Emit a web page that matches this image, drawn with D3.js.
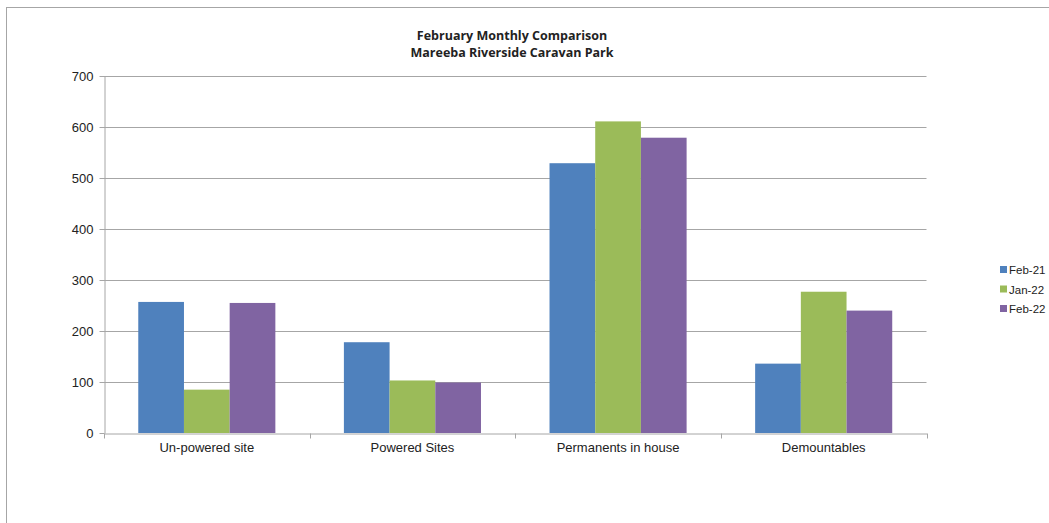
<!DOCTYPE html>
<html><head><meta charset="utf-8">
<script src="https://cdn.jsdelivr.net/npm/d3@7"></script>
<style>body{margin:0;background:#fff;}svg{display:block;}</style>
</head><body>
<svg id="c" width="1049" height="523"></svg>
<script>
const categories = ["Un-powered site", "Powered Sites", "Permanents in house", "Demountables"];
const seriesNames = ["Feb-21", "Jan-22", "Feb-22"];
const feb21 = [257, 178, 529, 136];
const jan22 = [85, 103, 611, 277];
const feb22 = [255, 99, 579, 240];
const yTicks = [0, 100, 200, 300, 400, 500, 600, 700];
const titleLines = ["February Monthly Comparison", "Mareeba Riverside Caravan Park"];
const colors = ["#4f81bd", "#9bbb59", "#8064a2"];

const seriesValues = [feb21, jan22, feb22];
const svg = d3.select("#c");
const m = {left: 104, top: 76, right: 926.5, bottom: 433};

// outer frame
svg.append("rect").attr("x", 6.5).attr("y", 7.5).attr("width", 1100).attr("height", 600)
  .attr("fill", "none").attr("stroke", "#a6a6a6").attr("stroke-width", 1);

const x = d3.scaleBand().domain(categories).range([m.left, m.right]).paddingInner(0).paddingOuter(0);
const bw = x.bandwidth();
const barW = bw / (3 + 1.5);
const y = d3.scaleLinear().domain([0, 700]).range([m.bottom, m.top]);

// gridlines
svg.append("g").selectAll("line").data(yTicks.filter(d => d > 0)).join("line")
  .attr("x1", m.left).attr("x2", m.right)
  .attr("y1", d => Math.round(y(d)) + 0.5).attr("y2", d => Math.round(y(d)) + 0.5)
  .attr("stroke", "#a6a6a6").attr("stroke-width", 1);

// bars
const gs = svg.append("g");
seriesValues.forEach((vals, si) => {
  gs.append("g").selectAll("rect").data(categories).join("rect")
    .attr("x", c => x(c) + barW * 0.75 + si * barW)
    .attr("width", barW)
    .attr("y", (c, i) => y(vals[i]))
    .attr("height", (c, i) => y(0) - y(vals[i]))
    .attr("fill", colors[si]);
});

// y axis
const ya = svg.append("g").attr("transform", `translate(${m.left + 0.5},0)`)
  .call(d3.axisLeft(y).tickValues(yTicks).tickSize(5).tickSizeOuter(0).tickPadding(6));
ya.select(".domain").attr("stroke", "#a6a6a6");
ya.selectAll(".tick line").attr("stroke", "#a6a6a6");
ya.selectAll("text").attr("font-family", "Liberation Sans, Arial, sans-serif").attr("font-size", 13).attr("fill", "#222");

// x axis
const xa = svg.append("g").attr("transform", `translate(0,${m.bottom + 0.5})`)
  .call(d3.axisBottom(x).tickSize(0).tickPadding(9).tickSizeOuter(0));
xa.select(".domain").attr("stroke", "#a6a6a6");
xa.selectAll("text").attr("font-family", "Liberation Sans, Arial, sans-serif").attr("font-size", 13).attr("fill", "#222");
const bounds = categories.map(c => x(c)).concat([m.right]);
xa.append("g").selectAll("line").data(bounds).join("line")
  .attr("x1", d => Math.round(d) + 0.5).attr("x2", d => Math.round(d) + 0.5)
  .attr("y1", 0).attr("y2", 5).attr("stroke", "#a6a6a6");

// title
svg.append("g").selectAll("text").data(titleLines).join("text")
  .attr("x", 512).attr("y", (d, i) => 40 + i * 17)
  .attr("text-anchor", "middle")
  .attr("font-family", "Open Sans, Liberation Sans, sans-serif").attr("font-weight", "bold")
  .attr("font-size", 12.5).attr("fill", "#222").text(d => d);

// legend
const lg = svg.append("g");
seriesNames.forEach((n, i) => {
  const yy = 270 + i * 19.5;
  lg.append("rect").attr("x", 1000).attr("y", yy - 4).attr("width", 7).attr("height", 7).attr("fill", colors[i]);
  lg.append("text").attr("x", 1009).attr("y", yy).attr("dy", "0.35em")
    .attr("font-family", "Liberation Sans, Arial, sans-serif").attr("font-size", 11.5).attr("fill", "#222").text(n);
});
</script>
</body></html>
